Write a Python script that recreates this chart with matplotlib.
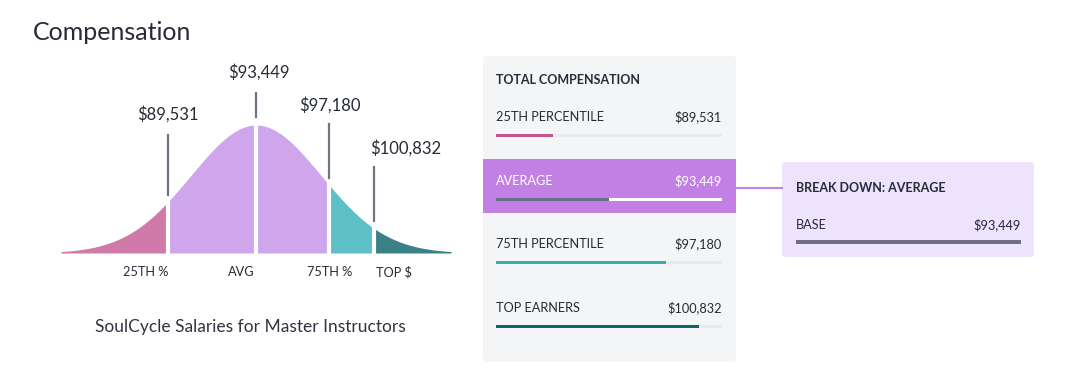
import numpy as np
import matplotlib
matplotlib.use("Agg")
import matplotlib.pyplot as plt
from matplotlib.patches import FancyBboxPatch, Rectangle

plt.rcParams['font.family'] = ['Lato', 'DejaVu Sans']

# data
salary_labels = ['$89,531', '$93,449', '$97,180', '$100,832']
curve_labels = ['25TH %', 'AVG', '75TH %', 'TOP $']
row_names = ['25TH PERCENTILE', 'AVERAGE', '75TH PERCENTILE', 'TOP EARNERS']
row_values = ['$89,531', '$93,449', '$97,180', '$100,832']
row_pct = [25, 50, 75, 90]
breakdown_names = ['BASE']
breakdown_values = ['$93,449']
breakdown_pct = [100]

# layout
curve_z = [-1.36, 0.0, 1.13, 1.82]          # stylised boundary positions, in sigma units
seg_colors = ['#d07aa9', '#cfa6ec', '#5fbfc6', '#3b7f87']
bar_colors = ['#c4578f', '#6c6a8e', '#39aeae', '#12626a']
text_dark = '#262b36'
line_gray = '#6f7480'

W, H = 1080, 379
fig = plt.figure(figsize=(W / 100, H / 100), dpi=100)

# full-figure pixel axes for boxes and text
ax = fig.add_axes([0, 0, 1, 1])
ax.set_xlim(0, W)
ax.set_ylim(H, 0)
ax.axis('off')

ax.text(33, 32, 'Compensation', fontsize=18, color=text_dark, va='center')

# --- bell curve ---
cx0, cx1, base, peak = 61, 451, 253, 125
cax = fig.add_axes([cx0 / W, (H - base) / H, (cx1 - cx0) / W, (base - peak) / H])
cax.set_xlim(-3, 3)
cax.set_ylim(0, 1)
cax.axis('off')
z = np.linspace(-3, 3, 600)
f = np.exp(-z ** 2 / 2)
edges = [-3] + curve_z + [3]
edge_col = [seg_colors[0], seg_colors[1], seg_colors[1], seg_colors[2], seg_colors[3]]
for i in range(len(edges) - 1):
    m = (z >= edges[i]) & (z <= edges[i + 1])
    cax.fill_between(z[m], 0, f[m], color=edge_col[i], lw=0)
for zb in curve_z:
    cax.plot([zb, zb], [-0.02, 1.05], color='white', lw=3, solid_capstyle='butt', clip_on=False)

# leader lines and labels (heights in curve units)
line_top = [0.92, 1.25, 1.01, 0.67]
label_y = [1.02, 1.35, 1.09, 0.75]
label_dx = [0, 0.05, 0, 0.48]
for zb, lt, ly, dx, lab in zip(curve_z, line_top, label_y, label_dx, salary_labels):
    fb = np.exp(-zb ** 2 / 2)
    cax.plot([zb, zb], [fb + 0.06, lt], color=line_gray, lw=1.6, clip_on=False)
    cax.text(zb + dx, ly, lab, ha='center', va='bottom', fontsize=12,
             color=text_dark, clip_on=False)

label_x = [-1.7, -0.23, 1.13, 2.12]
for lx, lab in zip(label_x, curve_labels):
    cax.text(lx, -0.15, lab, ha='center', va='center', fontsize=9.2,
             color=text_dark, clip_on=False)
cax.text(-0.08, -0.58, 'SoulCycle Salaries for Master Instructors', ha='center', va='center',
         fontsize=12.5, color='#2f3440', clip_on=False)

# --- total compensation panel ---
ax.add_patch(FancyBboxPatch((483, 56), 253, 306, boxstyle='round,pad=0,rounding_size=4',
                            fc='#f4f5f7', ec='none'))
ax.add_patch(Rectangle((483, 159), 253, 54, fc='#c280e4', ec='none'))
ax.plot([736, 782], [188, 188], color='#c280e4', lw=1.5)
ax.text(496, 80, 'TOTAL COMPENSATION', fontsize=9, fontweight='bold', color=text_dark, va='center')

row_y = [117, 181, 244, 308]
for i, (name, val, y) in enumerate(zip(row_names, row_values, row_y)):
    c = 'white' if i == 1 else text_dark
    ax.text(496, y, name, fontsize=9.2, color=c, va='center')
    ax.text(722, y, val, fontsize=9.2, color=c, va='center', ha='right')

bax = fig.add_axes([496 / W, 0, (722 - 496) / W, 1])
bax.set_xlim(0, 100)
bax.set_ylim(H, 0)
bax.axis('off')
bar_y = [y + 18 for y in row_y]
tracks = ['#e8eaed', 'white', '#e8eaed', '#e8eaed']
bax.barh(bar_y, [100] * 4, height=3, color=tracks, left=0)
bax.barh(bar_y, row_pct, height=3, color=bar_colors, left=0)

# --- breakdown box ---
ax.add_patch(FancyBboxPatch((782, 162), 252, 95, boxstyle='round,pad=0,rounding_size=4',
                            fc='#eee3fc', ec='none'))
ax.text(796, 188, 'BREAK DOWN: AVERAGE', fontsize=9, fontweight='bold', color=text_dark, va='center')
bd_y = [225]
for name, val, y in zip(breakdown_names, breakdown_values, bd_y):
    ax.text(796, y, name, fontsize=9.2, color=text_dark, va='center')
    ax.text(1021, y, val, fontsize=9.2, color=text_dark, va='center', ha='right')
dax = fig.add_axes([796 / W, 0, (1021 - 796) / W, 1])
dax.set_xlim(0, 100)
dax.set_ylim(H, 0)
dax.axis('off')
dax.barh([y + 17 for y in bd_y], breakdown_pct, height=3.5, color='#6f6e87')

fig.savefig('out.png', dpi=100)
